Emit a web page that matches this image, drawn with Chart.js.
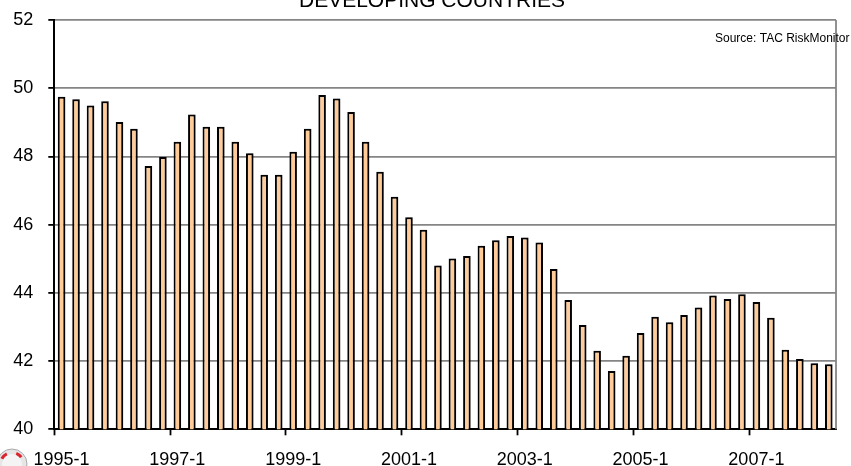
<!DOCTYPE html>
<html>
<head>
<meta charset="utf-8">
<title>Developing Countries</title>
<script src="https://cdn.jsdelivr.net/npm/chart.js@4.4.1/dist/chart.umd.min.js"></script>
<style>
  html, body { margin: 0; padding: 0; background: #ffffff; overflow: hidden; }
  #wrap { position: relative; width: 851px; height: 466px; }
  canvas { display: block; }
</style>
</head>
<body>
<div id="wrap"><canvas id="chart" width="851" height="466"></canvas></div>
<script>
// Quarterly periods, 1995 Q1 to 2008 Q2
const quarters = [
  '1995-1','1995-2','1995-3','1995-4',
  '1996-1','1996-2','1996-3','1996-4',
  '1997-1','1997-2','1997-3','1997-4',
  '1998-1','1998-2','1998-3','1998-4',
  '1999-1','1999-2','1999-3','1999-4',
  '2000-1','2000-2','2000-3','2000-4',
  '2001-1','2001-2','2001-3','2001-4',
  '2002-1','2002-2','2002-3','2002-4',
  '2003-1','2003-2','2003-3','2003-4',
  '2004-1','2004-2','2004-3','2004-4',
  '2005-1','2005-2','2005-3','2005-4',
  '2006-1','2006-2','2006-3','2006-4',
  '2007-1','2007-2','2007-3','2007-4',
  '2008-1','2008-2'
];

// Index value per quarter
const developingValues = [
  49.75, 49.68, 49.49, 49.62,
  49.01, 48.81, 47.72, 47.98,
  48.43, 49.23, 48.87, 48.87,
  48.43, 48.09, 47.46, 47.46,
  48.14, 48.81, 49.80, 49.70,
  49.30, 48.43, 47.55, 46.82,
  46.22, 45.85, 44.80, 45.01,
  45.08, 45.38, 45.54, 45.67,
  45.62, 45.48, 44.70, 43.79,
  43.06, 42.30, 41.71, 42.16,
  42.82, 43.30, 43.14, 43.35,
  43.57, 43.92, 43.82, 43.96,
  43.73, 43.27, 42.33, 42.06,
  41.94, 41.91
];

// Value axis range
const yMin = 40;
const yMax = 52;
const yStep = 2;

// Every eighth quarter carries a label
const labelEvery = 8;

const chartTitle = 'DEVELOPING COUNTRIES';
const sourceNote = 'Source: TAC RiskMonitor';

const FONT = '"Liberation Sans", Arial, Helvetica, sans-serif';

// Title, source note, right frame line, bar shadow and corner emblem
const decorations = {
  id: 'decorations',
  beforeDatasetsDraw(chart) {
    const ctx = chart.ctx;
    ctx.save();
    ctx.shadowColor = 'rgba(0,0,0,0.28)';
    ctx.shadowOffsetX = 2;
    ctx.shadowOffsetY = 0;
    ctx.shadowBlur = 0;
  },
  afterDatasetsDraw(chart) {
    chart.ctx.restore();
  },
  afterDraw(chart) {
    const ctx = chart.ctx;
    const a = chart.chartArea;
    ctx.save();
    // right frame line
    ctx.strokeStyle = '#858585';
    ctx.lineWidth = 1.8;
    ctx.beginPath();
    ctx.moveTo(a.right, a.top);
    ctx.lineTo(a.right, a.bottom);
    ctx.stroke();

    // title
    ctx.fillStyle = '#000000';
    ctx.font = '21px ' + FONT;
    ctx.textAlign = 'center';
    ctx.textBaseline = 'alphabetic';
    ctx.fillText(chartTitle, 432, 6.5);

    // source note
    ctx.font = '12px ' + FONT;
    ctx.textAlign = 'left';
    ctx.fillText(sourceNote, 715, 41.5);

    // corner emblem
    ctx.beginPath();
    ctx.arc(12, 464, 15, 0, Math.PI * 2);
    ctx.fillStyle = '#e6e6e6';
    ctx.fill();
    ctx.strokeStyle = '#a8a8a8';
    ctx.lineWidth = 1;
    ctx.stroke();
    ctx.fillStyle = '#d8262e';
    ctx.beginPath();
    ctx.moveTo(12, 464);
    ctx.arc(12, 464, 13, Math.PI * 1.15, Math.PI * 1.35);
    ctx.closePath();
    ctx.fill();
    ctx.beginPath();
    ctx.moveTo(12, 464);
    ctx.arc(12, 464, 13, Math.PI * 1.62, Math.PI * 1.8);
    ctx.closePath();
    ctx.fill();
    ctx.beginPath();
    ctx.arc(12, 464, 10, 0, Math.PI * 2);
    ctx.fillStyle = '#f4f4f4';
    ctx.fill();
    ctx.restore();
  }
};

new Chart(document.getElementById('chart'), {
  type: 'bar',
  data: {
    labels: quarters,
    datasets: [{
      label: chartTitle,
      data: developingValues,
      backgroundColor: '#ffcc99',
      borderColor: '#000000',
      borderWidth: 2,
      borderSkipped: 'start',
      categoryPercentage: 1.0,
      barPercentage: 0.52
    }]
  },
  options: {
    responsive: false,
    animation: false,
    devicePixelRatio: 1,
    layout: { padding: { top: 20, right: 15, left: 0, bottom: 0 } },
    plugins: {
      legend: { display: false },
      title: { display: false },
      tooltip: { enabled: false }
    },
    scales: {
      x: {
        type: 'category',
        offset: true,
        afterFit(scale) {
          scale.height = 36.7;
          scale.paddingLeft = 0;
          scale.paddingRight = 0;
        },
        grid: {
          display: true,
          offset: true,
          drawOnChartArea: false,
          drawTicks: true,
          tickLength: 6,
          tickColor: (c) => (c.index % labelEvery === 0 ? '#000000' : 'rgba(0,0,0,0)'),
          tickWidth: 1.8
        },
        border: { display: true, color: '#000000', width: 2 },
        ticks: {
          autoSkip: false,
          maxRotation: 0,
          minRotation: 0,
          padding: 14,
          color: '#000000',
          font: { family: FONT, size: 18 },
          callback(value, index) {
            return index % labelEvery === 0 ? quarters[index] : '';
          }
        }
      },
      y: {
        min: yMin,
        max: yMax,
        afterFit(scale) {
          scale.width = 54.3;
          scale.paddingTop = 0;
          scale.paddingBottom = 0;
        },
        grid: {
          color: '#858585',
          lineWidth: 1.8,
          drawTicks: true,
          tickLength: 6,
          tickColor: '#000000',
          tickWidth: 1.8
        },
        border: { display: true, color: '#000000', width: 2 },
        ticks: {
          stepSize: yStep,
          padding: 15,
          color: '#000000',
          font: { family: FONT, size: 18 }
        }
      }
    }
  },
  plugins: [decorations]
});
</script>
</body>
</html>
